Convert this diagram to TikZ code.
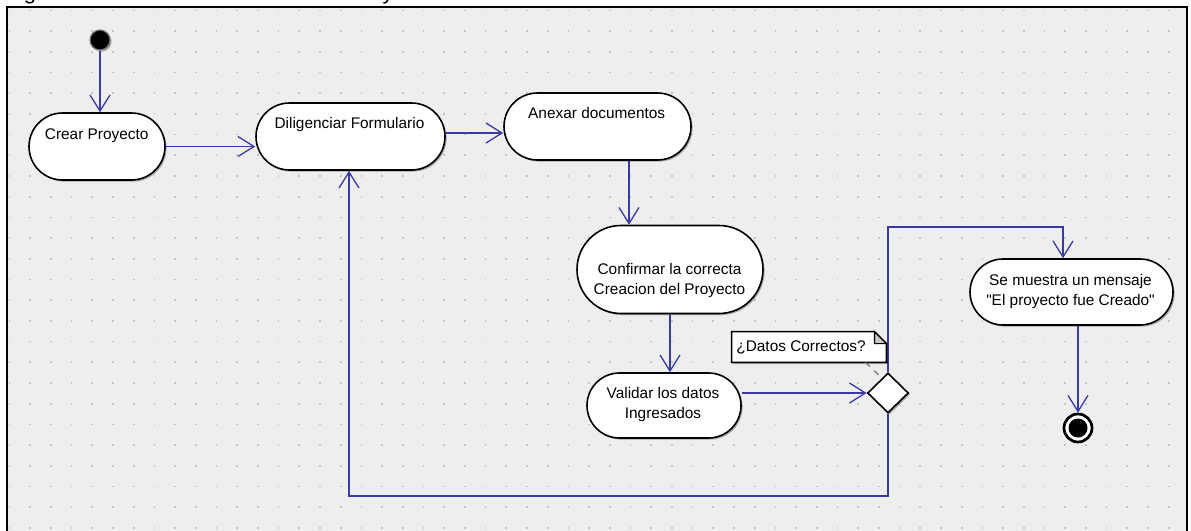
\documentclass[tikz,border=0pt]{standalone}
\usepackage{fontspec}
\setmainfont{Liberation Sans}[Ligatures=TeXOff]
\usetikzlibrary{arrows.meta,shapes.geometric,shadows,calc}

\definecolor{flowblue}{RGB}{58,58,165}
\definecolor{canvas}{RGB}{238,238,238}
\definecolor{gridot}{RGB}{196,196,196}
\definecolor{foldgray}{RGB}{200,200,200}

\tikzset{
  softshadow/.style={drop shadow={shadow xshift=0.8pt,shadow yshift=-0.8pt,fill=black,opacity=0.3}},
  flow/.style={draw=flowblue, line width=0.65pt, -{Straight Barb[length=8pt,width=10pt]}},
  act/.style={draw=black, line width=0.8pt, fill=white, inner sep=0pt,
              rounded corners=#1, softshadow},
  label/.style={anchor=base, align=center, inner sep=0pt},
  startdot/.style={circle, fill=black, draw=black!55, line width=0.6pt,
                   minimum size=10pt, inner sep=0pt, softshadow},
  decision/.style={diamond, draw=black, line width=0.8pt, fill=white, inner sep=0pt,
                   shape aspect=1, minimum width=20.5pt, minimum height=20pt, softshadow},
  notelink/.style={draw=black!55, line width=0.6pt, dashed},
}

\begin{document}
\begin{tikzpicture}[x=0.5pt, y=-0.5pt, font=\fontsize{7.7pt}{10pt}\selectfont]
\useasboundingbox (0,0) rectangle (1191,531);

% caption letters cut by the top edge
\begin{scope}
  \clip (0,0) rectangle (1191,7);
  \node[anchor=base, inner sep=0pt, font=\fontsize{11pt}{13pt}\selectfont] (capG) at (30,-1) {g};
  \node[anchor=base, inner sep=0pt, font=\fontsize{11pt}{13pt}\selectfont] (capY) at (388,-1) {y};
\end{scope}

% drawing canvas with dotted grid
\fill[canvas] (7,7) rectangle (1187,545);
\foreach \i in {0,...,56} {
  \foreach \j in {0,...,25} {
    \fill[gridot] ({8.6+20.7*\i},{9.5+20.7*\j}) rectangle ++(1.7,1.7);
  }
}
\draw[line width=1pt] (7,545) -- (7,7) -- (1187,7) -- (1187,545);

% activities (multi-line labels are anchored at the baseline of their last line)
\node[startdot] (start) at (100,40) {};

\node[act=16.75pt, minimum width=68pt, minimum height=33.5pt] (crear) at (97,146.5) {};
\node[label] (crearTxt) at (96.7,139.3) {Crear Proyecto};

\node[act=16.75pt, minimum width=94.5pt, minimum height=33.5pt] (dilig) at (350.5,136.5) {};
\node[label] (diligTxt) at (349.5,128.7) {Diligenciar Formulario};

\node[act=16.75pt, minimum width=93.5pt, minimum height=33.5pt] (anexar) at (597.5,126.5) {};
\node[label] (anexarTxt) at (596.7,118.3) {Anexar documentos};

\node[act=22pt, minimum width=93pt, minimum height=44pt] (conf) at (670,269.5) {};
\node[label] (confTxt) at (669.5,294) {Confirmar la correcta\\Creacion del Proyecto};

\node[act=16.25pt, minimum width=77pt, minimum height=32.5pt] (val) at (664,405.5) {};
\node[label] (valTxt) at (663,418) {Validar los datos\\Ingresados};

\node[decision] (dia) at (888,393) {};

\node[act=16.5pt, minimum width=101.5pt, minimum height=33pt] (msg) at (1071.5,292) {};
\node[label] (msgTxt) at (1070.5,305) {Se muestra un mensaje\\"El proyecto fue Creado"};

% final node
\node[circle, draw=black, line width=1.35pt, fill=white, minimum size=14pt, inner sep=0pt] (fin) at (1078,428) {};
\node[circle, fill=black, minimum size=9.5pt, inner sep=0pt] (finDot) at (fin) {};

% transitions
\draw[flow] (start) -- (start |- crear.north);
\draw[flow] (crear.east) -- (crear.east -| dilig.west);
\coordinate (dOut) at ($(dilig.east)+(0,-3.5)$);
\draw[flow] (dOut) -- (dOut -| anexar.west);
\coordinate (aDown) at ($(anexar.south)+(31.5,0)$);
\draw[flow] (aDown) -- (aDown |- conf.north);
\draw[flow] (conf.south) -- (conf.south |- val.north);
\draw[flow] (dia.west -| val.east) -- (dia.west);
\coordinate (upTurn) at (1063,227);
\draw[flow] (dia.north) |- (upTurn) -- (upTurn |- msg.north);
\coordinate (msgOut) at (fin.north |- msg.south);
\draw[flow] (msgOut) -- (fin.north);
\coordinate (loopCorner) at (349,496);
\draw[flow] (dia.south) |- (loopCorner) -- (loopCorner |- dilig.south);

% guard note with folded corner
\node[minimum width=77pt, minimum height=15pt, inner sep=0pt] (note) at (809,347) {};
\draw[line width=0.8pt, fill=white, softshadow]
  (note.south west) -- (note.north west) -- ($(note.north east)+(-12,0)$)
  -- ($(note.north east)+(0,12)$) -- (note.south east) -- cycle;
\filldraw[fill=foldgray, draw=black, line width=0.6pt]
  ($(note.north east)+(-12,0)$) -- ($(note.north east)+(-12,12)$)
  -- ($(note.north east)+(0,12)$) -- cycle;
\node[anchor=base west, inner sep=0pt] (noteTxt) at (736,351.7) {¿Datos Correctos?};
\draw[notelink] ($(note.south east)+(-21,0)$) -- ($(dia.north)+(-9,3)$);

\end{tikzpicture}
\end{document}
